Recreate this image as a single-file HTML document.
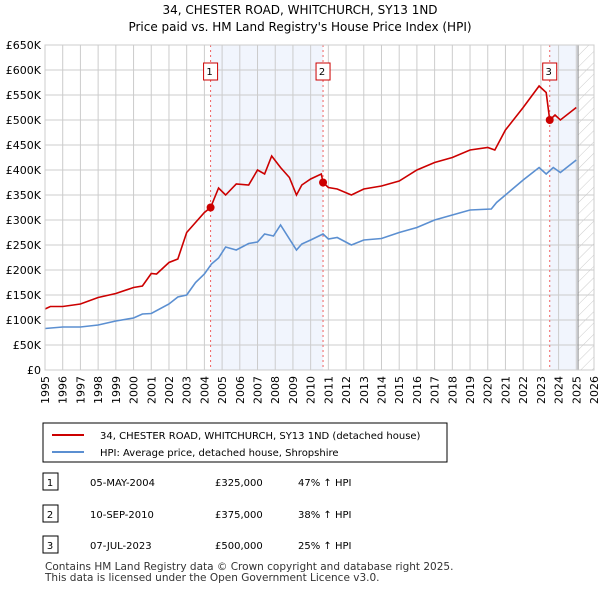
<!DOCTYPE html>
<html><head><meta charset="utf-8"><style>
body{margin:0;background:#fff;font-family:"Liberation Sans","DejaVu Sans",sans-serif;}
svg text{font-family:"DejaVu Sans","Liberation Sans",sans-serif;}
</style></head><body>
<svg id="c" width="600" height="590" xmlns="http://www.w3.org/2000/svg">
<defs><pattern id="h" width="8" height="8" patternUnits="userSpaceOnUse" patternTransform="rotate(45)"><line x1="0" y1="0" x2="0" y2="8" stroke="#ccc" stroke-width="1"/></pattern></defs>
<text x="300" y="14" text-anchor="middle" font-size="12">34, CHESTER ROAD, WHITCHURCH, SY13 1ND</text>
<text x="300" y="31" text-anchor="middle" font-size="12">Price paid vs. HM Land Registry's House Price Index (HPI)</text>
<g id="plot"></g>
<g>
<rect x="43" y="423" width="404" height="39" fill="#fff" stroke="#000" stroke-width="1"/>
<line x1="52" y1="435" x2="84" y2="435" stroke="#cc0000" stroke-width="2"/>
<text x="100" y="439" font-size="10">34, CHESTER ROAD, WHITCHURCH, SY13 1ND (detached house)</text>
<line x1="52" y1="452" x2="84" y2="452" stroke="#5b8fd1" stroke-width="2"/>
<text x="100" y="456" font-size="10">HPI: Average price, detached house, Shropshire</text>
</g>
<g id="tbl" font-size="10"></g>
<text x="45" y="570" font-size="10.5" fill="#333">Contains HM Land Registry data © Crown copyright and database right 2025.</text>
<text x="45" y="581" font-size="10.5" fill="#333">This data is licensed under the Open Government Licence v3.0.</text>
</svg>
<script>
const years=[1995,1996,1997,1998,1999,2000,2001,2002,2003,2004,2005,2006,2007,2008,2009,2010,2011,2012,2013,2014,2015,2016,2017,2018,2019,2020,2021,2022,2023,2024,2025,2026];
const yTicks=[0,50,100,150,200,250,300,350,400,450,500,550,600,650];
const hpiT=[1995,1996,1997,1998,1999,2000,2000.5,2001,2002,2002.5,2003,2003.5,2004,2004.4,2004.8,2005.2,2005.8,2006.5,2007,2007.4,2007.9,2008.3,2009.2,2009.5,2010,2010.7,2011,2011.5,2012.3,2013,2014,2015,2016,2017,2018,2019,2020.2,2020.5,2021,2022,2022.9,2023.3,2023.7,2024.1,2025];
const hpiV=[83,86,86,90,98,104,112,113,132,146,150,175,192,212,224,246,240,253,256,272,268,290,240,252,260,272,262,265,250,260,263,275,285,300,310,320,322,335,350,380,405,392,405,395,420];
const ppT=[1995,1995.3,1996,1997,1998,1999,2000,2000.5,2001,2001.3,2002,2002.5,2003,2004,2004.35,2004.8,2005.2,2005.8,2006.5,2007,2007.4,2007.8,2008.3,2008.8,2009.2,2009.5,2010,2010.6,2010.7,2011,2011.5,2012.3,2013,2014,2015,2016,2017,2018,2019,2020,2020.4,2021,2022,2022.9,2023.3,2023.5,2023.8,2024.1,2025];
const ppV=[122,127,127,132,145,153,165,168,193,192,215,222,275,315,325,364,350,372,370,400,392,428,405,385,350,370,382,392,375,365,362,350,362,368,378,400,415,425,440,445,440,480,525,568,555,500,510,500,525];
const saleT=[2004.35,2010.7,2023.5];
const saleV=[325,375,500];
const saleLbl=["1","2","3"];
const saleDate=["05-MAY-2004","10-SEP-2010","07-JUL-2023"];
const salePrice=["£325,000","£375,000","£500,000"];
const saleHpi=["47% ↑ HPI","38% ↑ HPI","25% ↑ HPI"];
const NS="http://www.w3.org/2000/svg";
const X0=45,X1=594,Y0=370,Y1=45;
const sx=t=>X0+(t-1995)*(X1-X0)/31, sy=v=>Y0-v*(Y0-Y1)/650;
const g=document.getElementById('plot');
function mk(tag,a,p){const e=document.createElementNS(NS,tag);for(const k in a)e.setAttribute(k,a[k]);(p||g).appendChild(e);return e;}
let e;
e=mk('rect',{x:sx(saleT[0]),y:Y1,width:sx(saleT[1])-sx(saleT[0]),height:Y0-Y1,fill:'#eef3fc',opacity:0.8});


e=mk('rect',{x:sx(saleT[2]),y:Y1,width:sx(2025.1)-sx(saleT[2]),height:Y0-Y1,fill:'#eef3fc',opacity:0.8});


e=mk('rect',{x:sx(2025.1),y:Y1,width:X1-sx(2025.1),height:Y0-Y1,fill:'url(#h)'});


years.forEach(y=>{
 e=mk('line',{x1:sx(y),x2:sx(y),y1:Y1,y2:Y0,stroke:'#ccc'});
 
 
 e=mk('text',{x:0,y:0,transform:`translate(${sx(y)+4},${Y0+6}) rotate(-90)`,'text-anchor':'end','font-size':11});
 e.textContent=y;
 
 
});
yTicks.forEach(v=>{
 e=mk('line',{x1:X0,x2:X1,y1:sy(v),y2:sy(v),stroke:'#ccc'});
 
 
 e=mk('text',{x:X0-4,y:sy(v)+4,'text-anchor':'end','font-size':11});
 e.textContent=v===0?'£0':'£'+v+'K';
 
 
});
e=mk('line',{x1:sx(2025.1),x2:sx(2025.1),y1:Y1,y2:Y0,stroke:'#888'});


saleT.forEach((t,i)=>{
 e=mk('line',{x1:sx(t),x2:sx(t),y1:Y1,y2:Y0,stroke:'#f06060','stroke-dasharray':'2,3'});
 
 
 e=mk('rect',{x:sx(t)-7,y:63,width:14,height:17,fill:'#fff',stroke:'#cc0000'});
 
 
 e=mk('text',{x:sx(t)-1,y:75,'text-anchor':'middle','font-size':10});
 e.textContent=saleLbl[i];
 
 
});
e=mk('polyline',{points:hpiT.map((t,i)=>sx(t)+','+sy(hpiV[i])).join(' '),fill:'none',stroke:'#5b8fd1','stroke-width':1.6});


e=mk('polyline',{points:ppT.map((t,i)=>sx(t)+','+sy(ppV[i])).join(' '),fill:'none',stroke:'#cc0000','stroke-width':1.6});


saleT.forEach((t,i)=>{
 e=mk('circle',{cx:sx(t),cy:sy(saleV[i]),r:4,fill:'#cc0000'});
 
 
});
e=mk('rect',{x:X0,y:Y1,width:X1-X0,height:Y0-Y1,fill:'none',stroke:'#ccc'});
const tb=document.getElementById('tbl');
[482,514,545].forEach((yy,i)=>{
 e=mk('rect',{x:43,y:yy-9,width:15,height:17,fill:'#fff',stroke:'#000'},tb);
 
 
 const cols=[[50,saleLbl[i],'middle'],[90,saleDate[i],'start'],[215,salePrice[i],'start'],[298,saleHpi[i],'start']];
 cols.forEach(c=>{
  e=mk('text',{x:c[0],y:yy+4,'text-anchor':c[2]},tb);
  e.textContent=c[1];
  
  
 });
});
</script>
</body></html>
